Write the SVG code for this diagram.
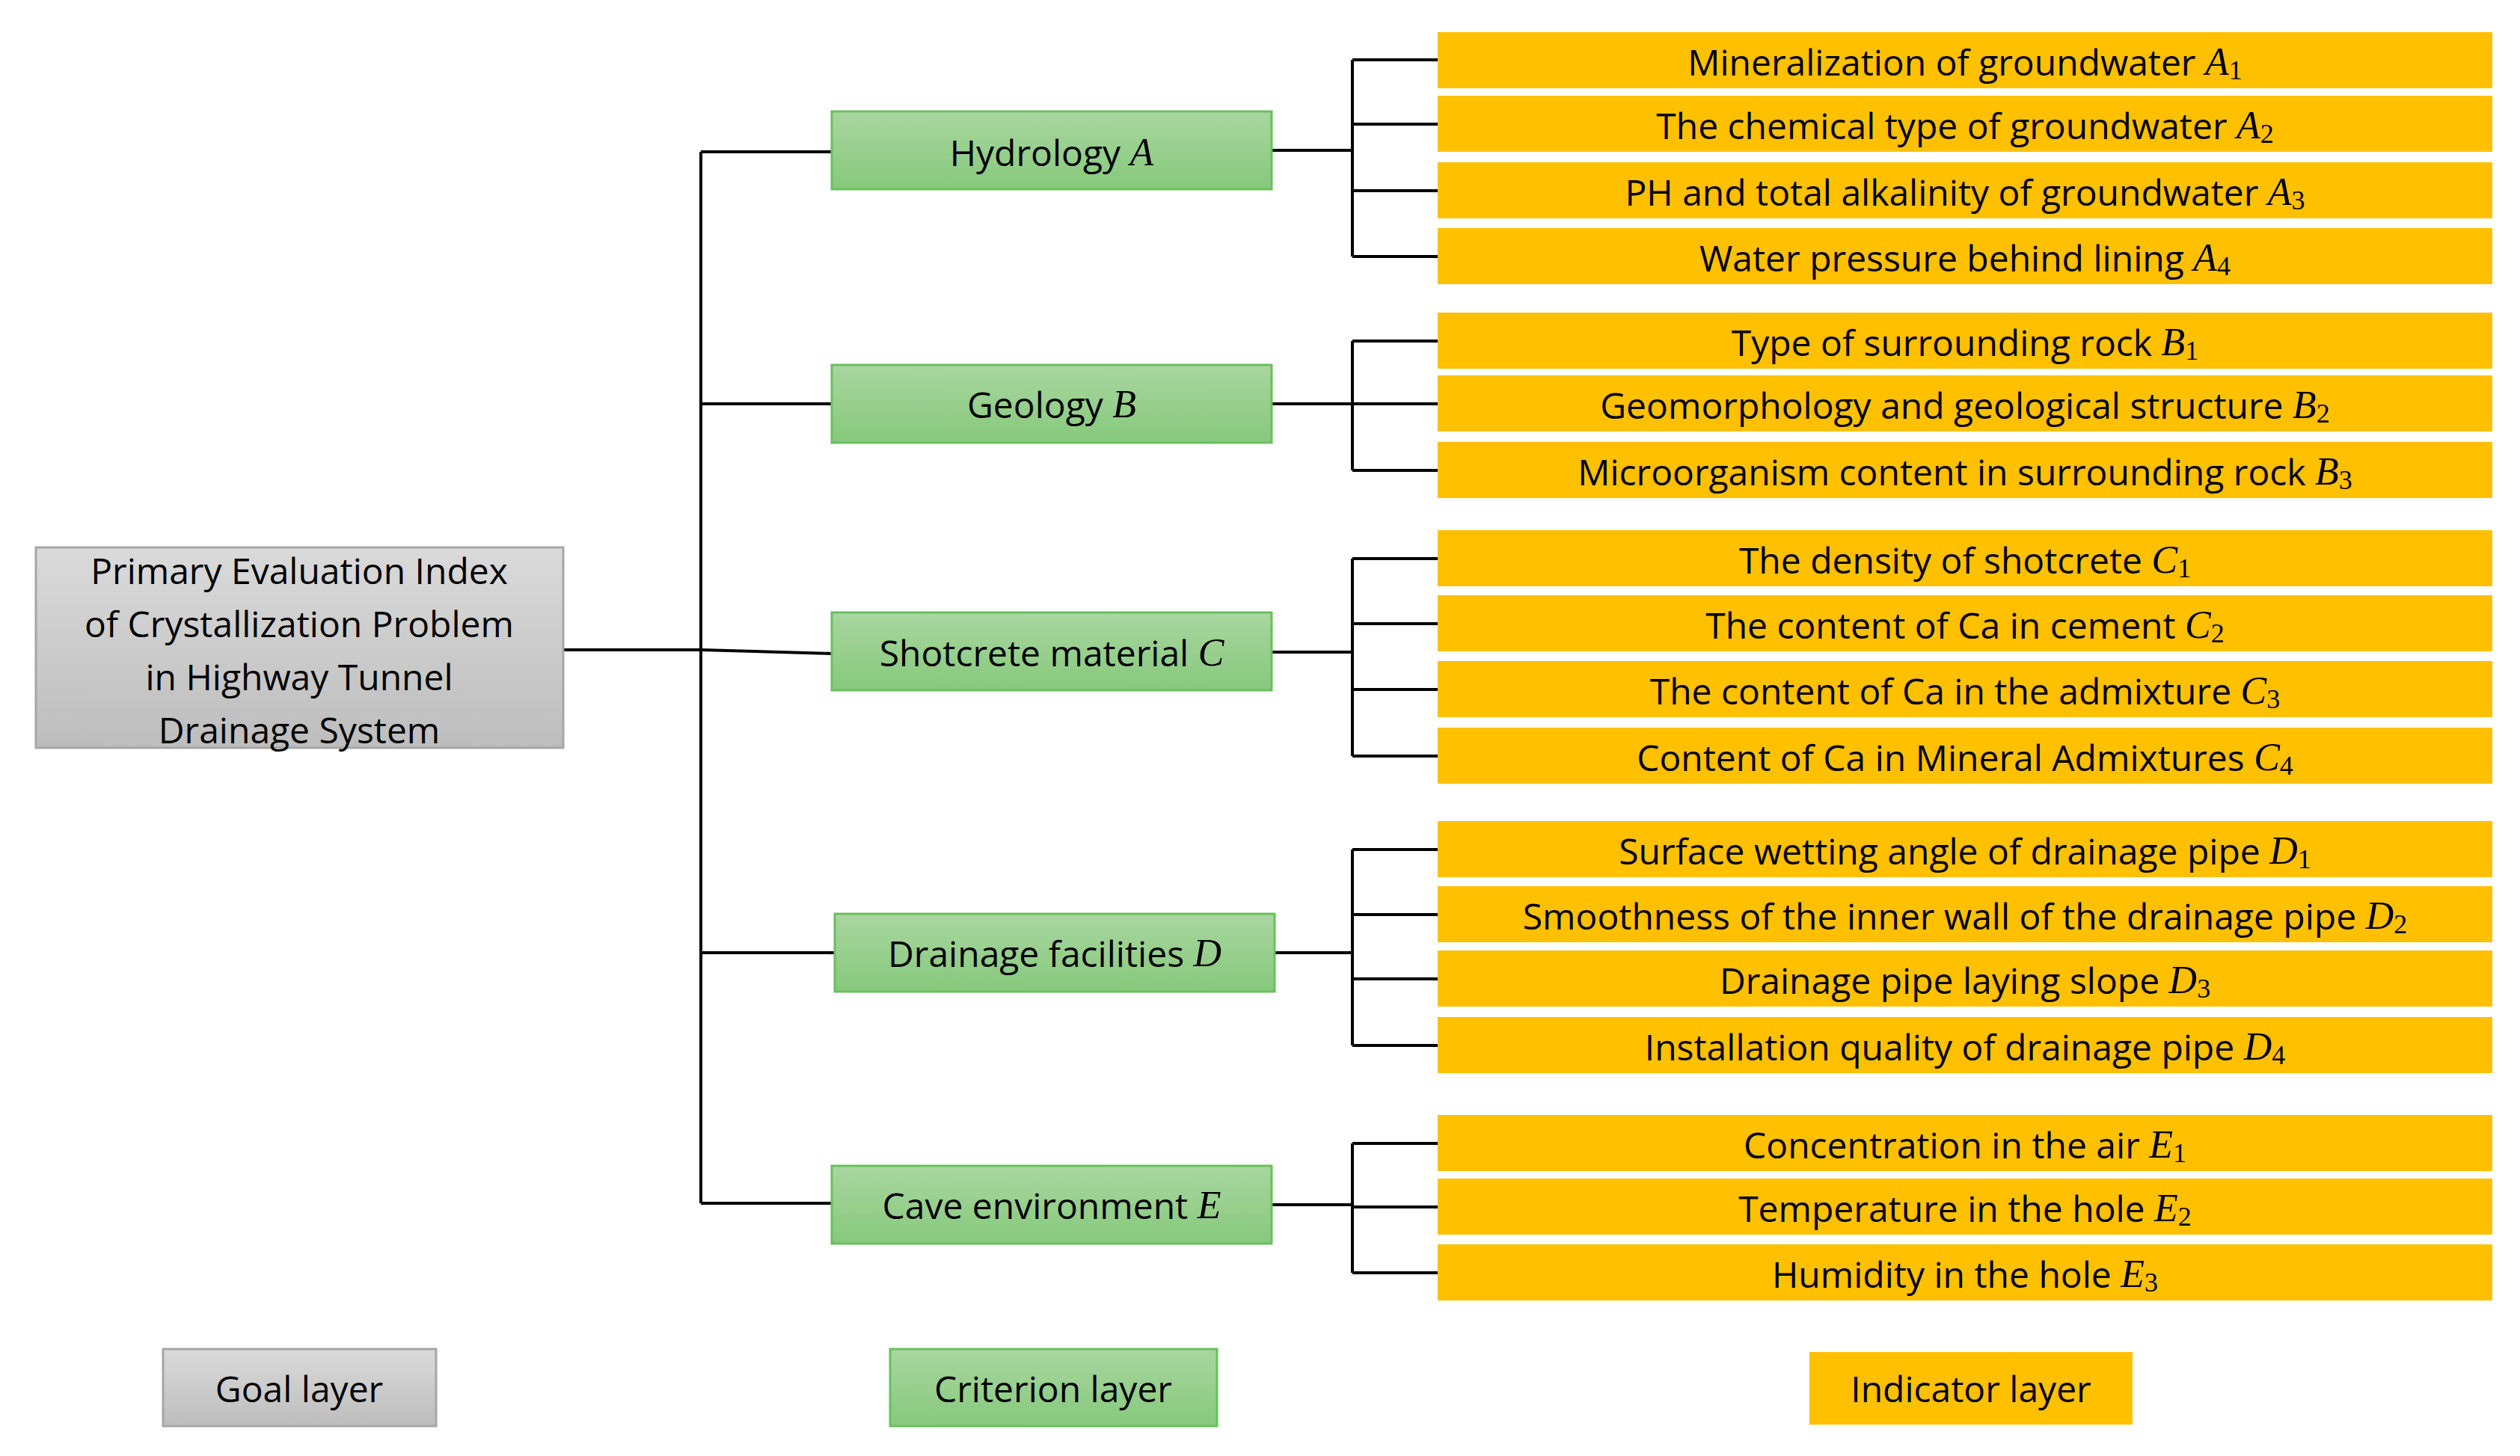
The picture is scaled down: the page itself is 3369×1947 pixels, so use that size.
<svg xmlns="http://www.w3.org/2000/svg" width="3369" height="1947" viewBox="0 0 3369 1947">
<defs>
<linearGradient id="gg" x1="0" y1="0" x2="0" y2="1"><stop offset="0" stop-color="#a9d6a0"/><stop offset="1" stop-color="#86c97b"/></linearGradient>
<linearGradient id="gy" x1="0" y1="0" x2="0" y2="1"><stop offset="0" stop-color="#dadada"/><stop offset="1" stop-color="#bdbdbd"/></linearGradient>
<marker id="ar" viewBox="0 0 10 10" refX="10" refY="5" markerWidth="5" markerHeight="5" orient="auto" markerUnits="userSpaceOnUse"><path d="M0,0L10,5L0,10z" fill="#000"/></marker>
<style>
text{font-family:"Open Sans","Liberation Sans",sans-serif;font-size:48px;fill:#000;text-anchor:middle;dominant-baseline:central}
.m{font-family:"Liberation Serif",serif;font-style:italic;font-size:52px}
.s{font-family:"Liberation Serif",serif;font-size:36px}
.crit{fill:url(#gg);stroke:#6abf5e;stroke-width:3}
.goal{fill:url(#gy);stroke:#a6a6a6;stroke-width:3}
.ind{fill:#ffc000}
.c{fill:none;stroke:#000;stroke-width:4}
.a{fill:none;stroke:#000;stroke-width:4;marker-end:url(#ar)}
</style>
</defs>
<g id="connectors">
<path class="c" d="M753,869L937,869"/>
<path class="c" d="M937,203L937,1609"/>
<path class="a" d="M937,203L1112,203"/>
<path class="a" d="M937,540L1112,540"/>
<path class="a" d="M937,869L1112,874"/>
<path class="a" d="M937,1274L1116,1274"/>
<path class="a" d="M937,1609L1112,1609"/>
<path class="c" d="M1700,201L1808,201M1808,80L1808,343"/>
<path class="a" d="M1808,80L1922,80"/><path class="a" d="M1808,166L1922,166"/><path class="a" d="M1808,255L1922,255"/><path class="a" d="M1808,343L1922,343"/>
<path class="c" d="M1700,540L1808,540M1808,456L1808,629"/>
<path class="a" d="M1808,456L1922,456"/><path class="a" d="M1808,540L1922,540"/><path class="a" d="M1808,629L1922,629"/>
<path class="c" d="M1700,872L1808,872M1808,747L1808,1011"/>
<path class="a" d="M1808,747L1922,747"/><path class="a" d="M1808,834L1922,834"/><path class="a" d="M1808,922L1922,922"/><path class="a" d="M1808,1011L1922,1011"/>
<path class="c" d="M1704,1274L1808,1274M1808,1136L1808,1398"/>
<path class="a" d="M1808,1136L1922,1136"/><path class="a" d="M1808,1223L1922,1223"/><path class="a" d="M1808,1309L1922,1309"/><path class="a" d="M1808,1398L1922,1398"/>
<path class="c" d="M1700,1611L1808,1611M1808,1529L1808,1702"/>
<path class="a" d="M1808,1529L1922,1529"/><path class="a" d="M1808,1614L1922,1614"/><path class="a" d="M1808,1702L1922,1702"/>
</g>
<g id="goal"><rect class="goal" x="48" y="732" width="705" height="268"/>
<text x="400" y="762">Primary Evaluation Index</text><text x="400" y="833">of Crystallization Problem</text><text x="400" y="904">in Highway Tunnel</text><text x="400" y="975">Drainage System</text></g>
<g id="critA"><rect class="crit" x="1112" y="149" width="588" height="104"/><text x="1406" y="203">Hydrology <tspan class="m">A</tspan></text></g>
<g id="critB"><rect class="crit" x="1112" y="488" width="588" height="104"/><text x="1406" y="540">Geology <tspan class="m">B</tspan></text></g>
<g id="critC"><rect class="crit" x="1112" y="819" width="588" height="104"/><text x="1406" y="872">Shotcrete material <tspan class="m">C</tspan></text></g>
<g id="critD"><rect class="crit" x="1116" y="1222" width="588" height="104"/><text x="1410" y="1274">Drainage facilities <tspan class="m">D</tspan></text></g>
<g id="critE"><rect class="crit" x="1112" y="1559" width="588" height="104"/><text x="1406" y="1611">Cave environment <tspan class="m">E</tspan></text></g>
<g id="indicators">
<g id="A1"><rect class="ind" x="1922" y="43" width="1410" height="75"/><text x="2627" y="82">Mineralization of groundwater <tspan class="m">A</tspan><tspan class="s" dy="12">1</tspan></text></g>
<g id="A2"><rect class="ind" x="1922" y="128" width="1410" height="75"/><text x="2627" y="167">The chemical type of groundwater <tspan class="m">A</tspan><tspan class="s" dy="12">2</tspan></text></g>
<g id="A3"><rect class="ind" x="1922" y="217" width="1410" height="75"/><text x="2627" y="256">PH and total alkalinity of groundwater <tspan class="m">A</tspan><tspan class="s" dy="12">3</tspan></text></g>
<g id="A4"><rect class="ind" x="1922" y="305" width="1410" height="75"/><text x="2627" y="344">Water pressure behind lining <tspan class="m">A</tspan><tspan class="s" dy="12">4</tspan></text></g>
<g id="B1"><rect class="ind" x="1922" y="418" width="1410" height="75"/><text x="2627" y="457">Type of surrounding rock <tspan class="m">B</tspan><tspan class="s" dy="12">1</tspan></text></g>
<g id="B2"><rect class="ind" x="1922" y="502" width="1410" height="75"/><text x="2627" y="541">Geomorphology and geological structure <tspan class="m">B</tspan><tspan class="s" dy="12">2</tspan></text></g>
<g id="B3"><rect class="ind" x="1922" y="591" width="1410" height="75"/><text x="2627" y="630">Microorganism content in surrounding rock <tspan class="m">B</tspan><tspan class="s" dy="12">3</tspan></text></g>
<g id="C1"><rect class="ind" x="1922" y="709" width="1410" height="75"/><text x="2627" y="748">The density of shotcrete <tspan class="m">C</tspan><tspan class="s" dy="12">1</tspan></text></g>
<g id="C2"><rect class="ind" x="1922" y="796" width="1410" height="75"/><text x="2627" y="835">The content of Ca in cement <tspan class="m">C</tspan><tspan class="s" dy="12">2</tspan></text></g>
<g id="C3"><rect class="ind" x="1922" y="884" width="1410" height="75"/><text x="2627" y="923">The content of Ca in the admixture <tspan class="m">C</tspan><tspan class="s" dy="12">3</tspan></text></g>
<g id="C4"><rect class="ind" x="1922" y="973" width="1410" height="75"/><text x="2627" y="1012">Content of Ca in Mineral Admixtures <tspan class="m">C</tspan><tspan class="s" dy="12">4</tspan></text></g>
<g id="D1"><rect class="ind" x="1922" y="1098" width="1410" height="75"/><text x="2627" y="1137">Surface wetting angle of drainage pipe <tspan class="m">D</tspan><tspan class="s" dy="12">1</tspan></text></g>
<g id="D2"><rect class="ind" x="1922" y="1185" width="1410" height="75"/><text x="2627" y="1224">Smoothness of the inner wall of the drainage pipe <tspan class="m">D</tspan><tspan class="s" dy="12">2</tspan></text></g>
<g id="D3"><rect class="ind" x="1922" y="1271" width="1410" height="75"/><text x="2627" y="1310">Drainage pipe laying slope <tspan class="m">D</tspan><tspan class="s" dy="12">3</tspan></text></g>
<g id="D4"><rect class="ind" x="1922" y="1360" width="1410" height="75"/><text x="2627" y="1399">Installation quality of drainage pipe <tspan class="m">D</tspan><tspan class="s" dy="12">4</tspan></text></g>
<g id="E1"><rect class="ind" x="1922" y="1491" width="1410" height="75"/><text x="2627" y="1530">Concentration in the air <tspan class="m">E</tspan><tspan class="s" dy="12">1</tspan></text></g>
<g id="E2"><rect class="ind" x="1922" y="1576" width="1410" height="75"/><text x="2627" y="1615">Temperature in the hole <tspan class="m">E</tspan><tspan class="s" dy="12">2</tspan></text></g>
<g id="E3"><rect class="ind" x="1922" y="1664" width="1410" height="75"/><text x="2627" y="1703">Humidity in the hole <tspan class="m">E</tspan><tspan class="s" dy="12">3</tspan></text></g>
</g>
<g id="legend-goal"><rect class="goal" x="218" y="1804" width="365" height="103"/><text x="400" y="1856">Goal layer</text></g>
<g id="legend-criterion"><rect class="crit" x="1190" y="1804" width="437" height="103"/><text x="1408" y="1856">Criterion layer</text></g>
<g id="legend-indicator"><rect class="ind" x="2419" y="1808" width="432" height="97"/><text x="2635" y="1856">Indicator layer</text></g>
</svg>
